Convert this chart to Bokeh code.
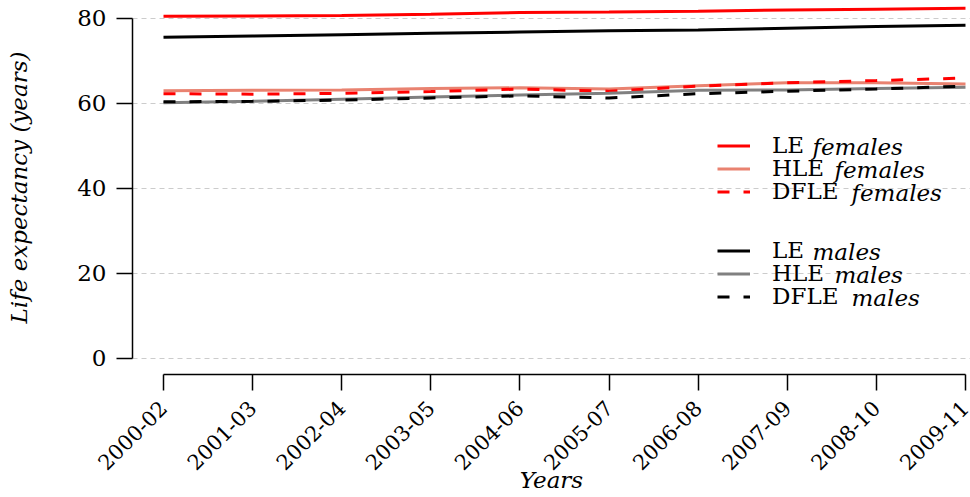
import math
from bokeh.plotting import figure
from bokeh.models import Legend, LegendItem, Label, FixedTicker
from bokeh.embed import file_html
from bokeh.resources import INLINE

periods = ["2000-02", "2001-03", "2002-04", "2003-05", "2004-06",
           "2005-07", "2006-08", "2007-09", "2008-10", "2009-11"]
xs = list(range(1, len(periods) + 1))

le_f = [80.5, 80.6, 80.7, 81.0, 81.4, 81.5, 81.7, 82.0, 82.2, 82.4]
hle_f = [63.0, 63.1, 63.2, 63.5, 63.7, 63.4, 64.2, 64.9, 64.9, 64.6]
dfle_f = [62.3, 62.2, 62.4, 62.8, 63.4, 62.9, 64.1, 64.9, 65.4, 66.0]
le_m = [75.6, 75.9, 76.2, 76.5, 76.8, 77.1, 77.3, 77.7, 78.1, 78.4]
hle_m = [60.2, 60.5, 61.0, 61.5, 62.0, 62.4, 63.1, 63.2, 63.5, 63.8]
dfle_m = [60.4, 60.5, 60.8, 61.3, 61.8, 61.3, 62.3, 62.9, 63.4, 64.1]

y_ticks = [0, 20, 40, 60, 80]

FONT = "DejaVu Serif"
FS = "23px"

p = figure(width=970, height=497, output_backend="svg", toolbar_location=None,
           x_range=(0.6521, 10.0561), y_range=(-3.765, 84.235),
           min_border_left=132, min_border_right=0, min_border_top=0,
           min_border_bottom=123)
p.outline_line_color = None
p.background_fill_color = "white"
p.border_fill_color = "white"

# axes
for ax in (p.xaxis[0], p.yaxis[0]):
    ax.axis_line_width = 1.5
    ax.major_tick_line_width = 1.5
    ax.major_tick_out = 16
    ax.major_tick_in = 0
    ax.minor_tick_out = 0
    ax.minor_tick_in = 0
    ax.major_label_text_font = FONT
    ax.major_label_text_font_size = FS
    ax.major_label_text_color = "black"
    ax.axis_label_text_font = FONT
    ax.axis_label_text_font_size = FS
    ax.axis_label_text_font_style = "italic"
    ax.axis_label_text_color = "black"

p.yaxis[0].bounds = (0, 80)
p.yaxis[0].ticker = FixedTicker(ticks=y_ticks)
p.yaxis[0].major_label_standoff = 10
p.yaxis[0].axis_label = "Life expectancy (years)"
p.yaxis[0].axis_label_standoff = 42

p.xaxis[0].bounds = (1, 10)
p.xaxis[0].ticker = FixedTicker(ticks=xs)
p.xaxis[0].major_label_overrides = {x: lab for x, lab in zip(xs, periods)}
p.xaxis[0].major_label_orientation = math.pi / 4
p.xaxis[0].major_label_text_font_size = "21px"
p.xaxis[0].major_label_standoff = 14
p.xaxis[0].axis_label = "Years"
p.xaxis[0].axis_label_standoff = -13

p.xgrid.visible = False
p.ygrid.ticker = FixedTicker(ticks=y_ticks)
p.ygrid.bounds = (1, 10)
p.ygrid.grid_line_color = "#cccccc"
p.ygrid.grid_line_dash = "5 4"
p.ygrid.grid_line_width = 1

LW = 3
DASH = "12 14"
r1 = p.line(xs, le_f, line_color="#ff0000", line_width=LW)
r2 = p.line(xs, hle_f, line_color="#e98270", line_width=LW)
r3 = p.line(xs, dfle_f, line_color="#ff0000", line_width=LW, line_dash=DASH)
r4 = p.line(xs, le_m, line_color="black", line_width=LW)
r5 = p.line(xs, hle_m, line_color="#808080", line_width=LW)
r6 = p.line(xs, dfle_m, line_color="black", line_width=LW, line_dash=DASH)


def make_legend(items, loc):
    lg = Legend(items=items, location=loc, orientation="vertical")
    lg.border_line_color = None
    lg.background_fill_alpha = 0
    lg.padding = 0
    lg.margin = 0
    lg.spacing = 0
    lg.glyph_width = 33
    lg.glyph_height = 23
    lg.label_height = 23
    lg.label_standoff = 22
    lg.label_text_font = FONT
    lg.label_text_font_size = FS
    lg.label_text_color = "black"
    return lg


# one legend entry per row so that the row pitch matches the reference
rows = [("LE", r1, 216), ("HLE", r2, 193), ("DFLE", r3, 170),
        ("LE", r4, 111), ("HLE", r5, 88), ("DFLE", r6, 65)]
for lab, rr, yb in rows:
    p.add_layout(make_legend([LegendItem(label=lab, renderers=[rr])], (585, yb)))

ital = [("females", 680, 228), ("females", 702, 205), ("females", 719, 182),
        ("males", 680, 123), ("males", 702, 100), ("males", 719, 77)]
for txt, x, y in ital:
    p.add_layout(Label(x=x, y=y, x_units="screen", y_units="screen", text=txt,
                       text_font=FONT, text_font_size=FS, text_font_style="italic",
                       text_baseline="middle", text_color="black"))

open("out.html", "w").write(file_html(p, INLINE))
